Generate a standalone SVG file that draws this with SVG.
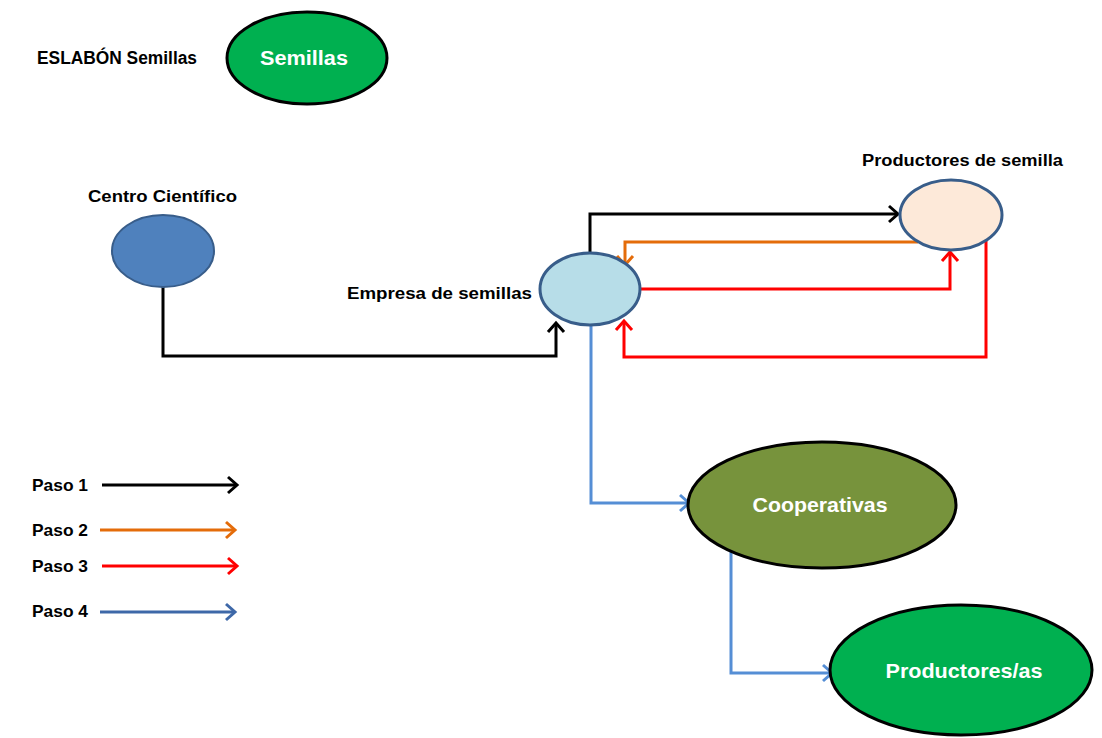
<svg xmlns="http://www.w3.org/2000/svg" width="1102" height="738" viewBox="0 0 1102 738">
<style>
.lbl{font-family:"Liberation Sans",Arial,sans-serif;font-weight:bold;fill:#000;}
.wt{font-family:"Liberation Sans",Arial,sans-serif;font-weight:bold;fill:#fff;text-anchor:middle;}
.c{fill:none;stroke-width:3;stroke-linejoin:miter;}
</style>
<defs>
<marker id="aK" markerUnits="userSpaceOnUse" markerWidth="22" markerHeight="22" refX="14" refY="11" orient="auto"><path d="M5,3 L14,11 L5,19" fill="none" stroke="#000" stroke-width="3"/></marker>
<marker id="aO" markerUnits="userSpaceOnUse" markerWidth="22" markerHeight="22" refX="14" refY="11" orient="auto"><path d="M5,3 L14,11 L5,19" fill="none" stroke="#E46C0A" stroke-width="3"/></marker>
<marker id="aR" markerUnits="userSpaceOnUse" markerWidth="22" markerHeight="22" refX="14" refY="11" orient="auto"><path d="M5,3 L14,11 L5,19" fill="none" stroke="#FF0000" stroke-width="3"/></marker>
<marker id="aB" markerUnits="userSpaceOnUse" markerWidth="22" markerHeight="22" refX="14" refY="11" orient="auto"><path d="M5,3 L14,11 L5,19" fill="none" stroke="#558ED5" stroke-width="3"/></marker>
<marker id="aD" markerUnits="userSpaceOnUse" markerWidth="22" markerHeight="22" refX="14" refY="11" orient="auto"><path d="M5,3 L14,11 L5,19" fill="none" stroke="#3E68A8" stroke-width="3"/></marker>
</defs>
<rect width="1102" height="738" fill="#fff"/>

<g id="title">
<text class="lbl" x="37" y="64" font-size="18" textLength="160" lengthAdjust="spacingAndGlyphs">ESLABÓN Semillas</text>
</g>
<g id="semillas">
<ellipse cx="307" cy="58" rx="80" ry="46" fill="#00B050" stroke="#000" stroke-width="3"/>
<text class="wt" x="304" y="65" font-size="20" textLength="88" lengthAdjust="spacingAndGlyphs">Semillas</text>
</g>

<g id="connectors">
<polyline class="c" stroke="#000" points="163,287 163,356 556,356 556,323" marker-end="url(#aK)"/>
<polyline class="c" stroke="#000" points="590,253 590,214 898,214" marker-end="url(#aK)"/>
<polyline class="c" stroke="#E46C0A" points="918,242 625,242 625,265" marker-end="url(#aO)"/>
<polyline class="c" stroke="#FF0000" points="640,289 950,289 950,252" marker-end="url(#aR)"/>
<polyline class="c" stroke="#FF0000" points="986,237 986,357 624,357 624,321" marker-end="url(#aR)"/>
<polyline class="c" stroke="#558ED5" points="591,325 591,503 689,503" marker-end="url(#aB)"/>
<polyline class="c" stroke="#558ED5" points="731,552 731,673 832,673" marker-end="url(#aB)"/>
</g>

<g id="centro">
<text class="lbl" x="88" y="202" font-size="16" textLength="149" lengthAdjust="spacingAndGlyphs">Centro Científico</text>
<ellipse cx="163" cy="251" rx="51" ry="36" fill="#4F81BD" stroke="#385D8A" stroke-width="2"/>
</g>
<g id="empresa">
<text class="lbl" x="347" y="299" font-size="16" textLength="185" lengthAdjust="spacingAndGlyphs">Empresa de semillas</text>
<ellipse cx="590" cy="289" rx="50" ry="36" fill="#B7DDE8" stroke="#385D8A" stroke-width="3"/>
</g>
<g id="productores-semilla">
<text class="lbl" x="862" y="166" font-size="16" textLength="201" lengthAdjust="spacingAndGlyphs">Productores de semilla</text>
<ellipse cx="951" cy="215" rx="51" ry="35" fill="#FDE9D9" stroke="#385D8A" stroke-width="3"/>
</g>
<g id="cooperativas">
<ellipse cx="822" cy="505" rx="134" ry="63" fill="#77933C" stroke="#000" stroke-width="3"/>
<text class="wt" x="820" y="512" font-size="21" textLength="135" lengthAdjust="spacingAndGlyphs">Cooperativas</text>
</g>
<g id="productores">
<ellipse cx="961" cy="670" rx="131" ry="65" fill="#00B050" stroke="#000" stroke-width="3"/>
<text class="wt" x="964" y="678" font-size="21" textLength="157" lengthAdjust="spacingAndGlyphs">Productores/as</text>
</g>

<g id="legend">
<text class="lbl" x="32" y="491" font-size="16.5" textLength="56" lengthAdjust="spacingAndGlyphs">Paso 1</text>
<line class="c" stroke="#000" x1="102" y1="485" x2="237" y2="485" marker-end="url(#aK)"/>
<text class="lbl" x="32" y="536" font-size="16.5" textLength="56" lengthAdjust="spacingAndGlyphs">Paso 2</text>
<line class="c" stroke="#E46C0A" x1="100" y1="530" x2="235" y2="530" marker-end="url(#aO)"/>
<text class="lbl" x="32" y="572" font-size="16.5" textLength="56" lengthAdjust="spacingAndGlyphs">Paso 3</text>
<line class="c" stroke="#FF0000" x1="102" y1="566" x2="237" y2="566" marker-end="url(#aR)"/>
<text class="lbl" x="32" y="617" font-size="16.5" textLength="56" lengthAdjust="spacingAndGlyphs">Paso 4</text>
<line class="c" stroke="#3E68A8" x1="100" y1="612" x2="235" y2="612" marker-end="url(#aD)"/>
</g>
</svg>
